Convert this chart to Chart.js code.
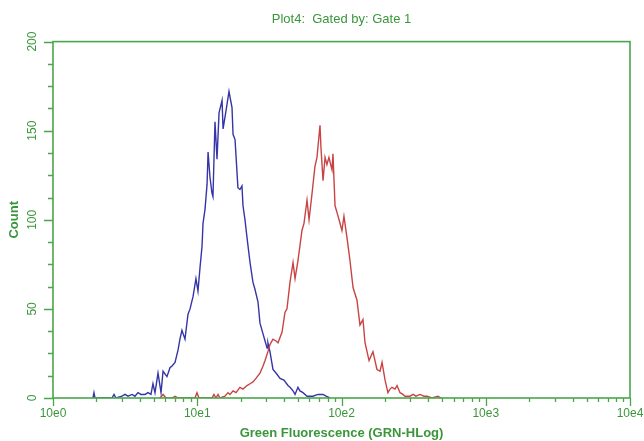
<!DOCTYPE html>
<html>
<head>
<meta charset="utf-8">
<script src="https://cdn.jsdelivr.net/npm/chart.js@4.4.0/dist/chart.umd.min.js"></script>
<style>
html, body { margin: 0; padding: 0; background: #fff; }
</style>
</head>
<body>
<canvas id="hist" width="644" height="441"></canvas>
<script>
// x positions in decades (10e0 = 0 ... 10e4 = 4)
const blueLog = [
    0.277, 0.284, 0.291, 0.409, 0.423, 0.437, 0.478, 0.499, 0.520, 0.548,
    0.568, 0.589, 0.610, 0.638, 0.659, 0.679, 0.693, 0.707, 0.728, 0.749,
    0.763, 0.790, 0.811, 0.825, 0.846, 0.867, 0.880, 0.894, 0.915, 0.936,
    0.950, 0.971, 0.991, 1.005, 1.019, 1.033, 1.040, 1.054, 1.068, 1.075,
    1.088, 1.102, 1.109, 1.123, 1.137, 1.151, 1.172, 1.179, 1.199, 1.220,
    1.241, 1.248, 1.262, 1.282, 1.296, 1.310, 1.317, 1.331, 1.345, 1.366,
    1.386, 1.400, 1.421, 1.435, 1.456, 1.470, 1.484, 1.490, 1.504, 1.525,
    1.546, 1.574, 1.601, 1.629, 1.643, 1.664, 1.678, 1.698, 1.712, 1.733,
    1.761, 1.782, 1.802, 1.837, 1.872, 1.893, 1.920
];
const blueCount = [
    0, 3, 0, 0, 2, 0, 1, 2, 1, 2,
    1, 3, 2, 2, 3, 2, 8, 3, 14, 3,
    15, 12, 17, 18, 20, 27, 33, 38, 33, 47,
    50, 57, 67, 60, 73, 85, 98, 106, 120, 138,
    124, 115, 113, 155, 134, 160, 167, 151, 161, 172,
    163, 148, 145, 118, 117, 119, 108, 100, 90, 76,
    65, 61, 54, 42, 36, 32, 28, 31, 26, 16,
    14, 11, 10, 7, 6, 4, 2, 6, 4, 3,
    1, 1, 1, 2, 2, 1, 0
];
const redLog = [
    0.742, 0.763, 0.783, 0.825, 0.846, 0.867, 0.984, 0.998, 1.012, 1.102,
    1.116, 1.130, 1.144, 1.158, 1.192, 1.213, 1.227, 1.248, 1.269, 1.296,
    1.317, 1.345, 1.366, 1.386, 1.407, 1.435, 1.456, 1.470, 1.490, 1.504,
    1.525, 1.546, 1.560, 1.588, 1.608, 1.622, 1.643, 1.664, 1.678, 1.698,
    1.726, 1.740, 1.761, 1.775, 1.796, 1.816, 1.830, 1.851, 1.858, 1.872,
    1.886, 1.899, 1.913, 1.934, 1.941, 1.955, 1.969, 1.983, 2.003, 2.017,
    2.038, 2.059, 2.080, 2.107, 2.128, 2.149, 2.163, 2.191, 2.218, 2.246,
    2.267, 2.281, 2.302, 2.322, 2.336, 2.350, 2.371, 2.385, 2.406, 2.426,
    2.440, 2.475, 2.496, 2.516, 2.544, 2.572, 2.593, 2.627, 2.669, 2.690
];
const redCount = [
    0, 2, 0, 0, 1, 0, 0, 3, 0, 0,
    2, 0, 2, 0, 1, 3, 2, 4, 3, 6,
    5, 7, 8, 9, 11, 14, 18, 21, 26, 30,
    33, 32, 31, 37, 48, 50, 65, 76, 67, 77,
    94, 98, 111, 100, 115, 130, 135, 153, 140, 122,
    135, 131, 135, 128, 137, 108, 104, 100, 94, 102,
    90, 77, 62, 55, 41, 44, 31, 21, 26, 16,
    15, 20, 10, 3, 5, 6, 5, 7, 3, 2,
    1, 1, 2, 1, 2, 1, 1, 0, 1, 0
];

const xMajorValues = [1, 10, 100, 1000, 10000];
const xTickLabels = ["10e0", "10e1", "10e2", "10e3", "10e4"];
const yTickLabels = ["0", "50", "100", "150", "200"];

const textGreen = "#3b963b";
const lineGreen = "#4aa64a";

// all tick positions: decades plus 2..9 minors
const xTickValues = [];
xMajorValues.slice(0, -1).forEach(d => {
    for (let m = 1; m < 10; m++) xTickValues.push(d * m);
});
xTickValues.push(xMajorValues[xMajorValues.length - 1]);

function toPoints(logs, counts) {
    return logs.map((l, i) => ({ x: Math.pow(10, l), y: counts[i] }));
}

// box frame and tick marks, drawn over the curves like the original
const frame = {
    id: "frame",
    afterDatasetsDraw(chart) {
        const ctx = chart.ctx;
        const a = chart.chartArea;
        const sx = chart.scales.x;
        const sy = chart.scales.y;
        ctx.save();
        ctx.strokeStyle = lineGreen;
        ctx.lineWidth = 1.6;
        ctx.strokeRect(a.left, a.top, a.right - a.left, a.bottom - a.top);
        ctx.lineWidth = 1.3;
        ctx.beginPath();
        sx.ticks.forEach(t => {
            const px = Math.round(sx.getPixelForValue(t.value)) + 0.5;
            const len = xMajorValues.includes(t.value) ? 8 : 4;
            ctx.moveTo(px, a.bottom);
            ctx.lineTo(px, a.bottom + len);
        });
        sy.ticks.forEach(t => {
            const py = Math.round(sy.getPixelForValue(t.value)) + 0.5;
            const len = yTickLabels.includes(String(t.value)) ? 9 : 5;
            ctx.moveTo(a.left, py);
            ctx.lineTo(a.left - len, py);
        });
        ctx.stroke();
        ctx.restore();
    }
};

const histChart = new Chart(document.getElementById("hist"),
    {
        type: "line",
        data: {
            datasets: [
                {
                    label: "Red",
                    data: toPoints(redLog, redCount),
                    borderColor: "#c84444",
                    borderWidth: 1.4
                },
                {
                    label: "Blue",
                    data: toPoints(blueLog, blueCount),
                    borderColor: "#3535a8",
                    borderWidth: 1.4
                }
            ]
        },
        options: {
            responsive: false,
            animation: false,
            layout: {
                padding: { left: 0, right: 14, top: 6, bottom: 0 }
            },
            elements: {
                point: { radius: 0 },
                line: { tension: 0 }
            },
            plugins: {
                legend: { display: false },
                tooltip: { enabled: false },
                title: {
                    display: true,
                    text: "Plot4:  Gated by: Gate 1",
                    color: textGreen,
                    fullSize: false,
                    font: { family: "Liberation Sans", size: 13, weight: "normal" },
                    padding: { top: 6, bottom: 14 }
                }
            },
            scales: {
                x: {
                    type: "logarithmic",
                    min: 1,
                    max: 10000,
                    grid: { display: false, drawTicks: false },
                    border: { display: false },
                    afterBuildTicks: (s) => { s.ticks = xTickValues.map(v => ({ value: v })); },
                    afterFit: (s) => { s.height = 43; s.paddingLeft = 0; s.paddingRight = 0; },
                    ticks: {
                        autoSkip: false,
                        maxRotation: 0,
                        padding: 8,
                        color: textGreen,
                        font: { family: "Liberation Sans", size: 12 },
                        callback: (v) => {
                            const i = xMajorValues.indexOf(v);
                            return i >= 0 ? xTickLabels[i] : "";
                        }
                    },
                    title: {
                        display: true,
                        text: "Green Fluorescence (GRN-HLog)",
                        color: textGreen,
                        font: { family: "Liberation Sans", size: 13, weight: "bold" },
                        padding: { top: 0, bottom: 0 }
                    }
                },
                y: {
                    min: 0,
                    max: 200,
                    grid: { display: false, drawTicks: false },
                    border: { display: false },
                    afterFit: (s) => { s.width = 53; s.paddingTop = 0; s.paddingBottom = 0; },
                    ticks: {
                        stepSize: 12.5,
                        autoSkip: false,
                        minRotation: 90,
                        maxRotation: 90,
                        crossAlign: "center",
                        padding: 10,
                        color: textGreen,
                        font: { family: "Liberation Sans", size: 12 },
                        callback: (v) => yTickLabels.includes(String(v)) ? String(v) : ""
                    },
                    title: {
                        display: true,
                        text: "Count",
                        color: textGreen,
                        font: { family: "Liberation Sans", size: 13, weight: "bold" },
                        padding: { top: 7, bottom: 0 }
                    }
                }
            }
        },
        plugins: [frame]
    });
</script>
</body>
</html>
